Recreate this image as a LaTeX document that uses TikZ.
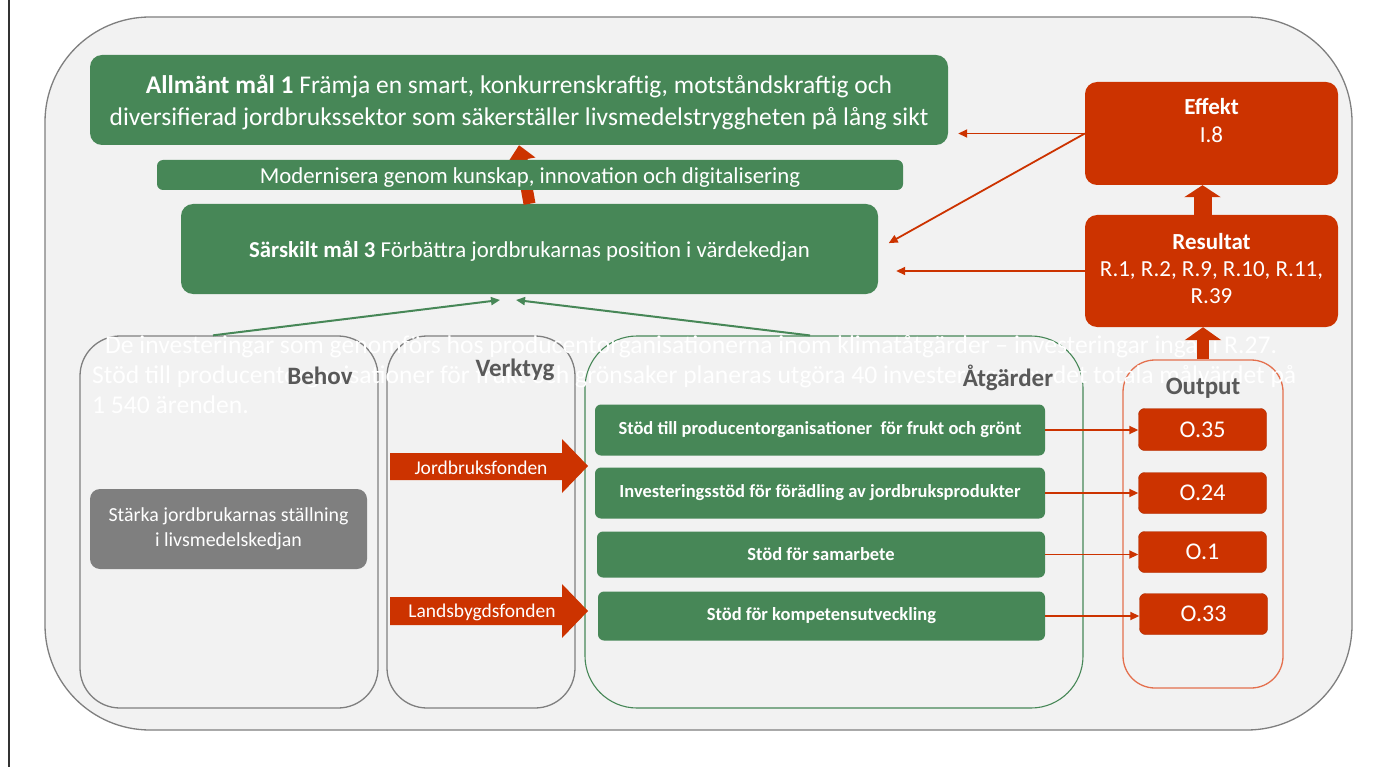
\documentclass[tikz,border=0pt]{standalone}
\usepackage{fontspec}
\setmainfont{Carlito}
\usetikzlibrary{arrows.meta,calc}
\definecolor{gr}{RGB}{71,135,87}
\definecolor{rd}{RGB}{204,51,0}
\definecolor{bg}{RGB}{242,242,242}
\definecolor{gy}{RGB}{127,127,127}
\definecolor{lbl}{RGB}{89,89,89}
\definecolor{outl}{RGB}{228,112,78}
\newcommand{\fs}[2]{\fontsize{#1}{#2}\selectfont}
\begin{document}
\begin{tikzpicture}[x=1pt,y=-1pt,
  gbox/.style={fill=gr,text=white,rounded corners=12pt,inner sep=0pt,align=center},
  rbox/.style={fill=rd,text=white,rounded corners=12pt,inner sep=0pt,align=center},
  wtxt/.style={text=white,align=center,inner sep=0pt},
  act/.style={fill=gr,text=white,rounded corners=6pt,inner sep=0pt,font=\fs{18.5}{22}\bfseries},
  outb/.style={fill=rd,draw=rd!85!black,text=white,rounded corners=6pt,inner sep=0pt,minimum width=128pt,font=\fs{24}{28}},
  col/.style={rounded corners=40pt,line width=1.3pt,inner sep=0pt},
  lab/.style={text=lbl,font=\fs{25}{29}\bfseries},
  rarr/.style={draw=rd,line width=1.8pt,-{Triangle[length=9pt,width=8pt]}},
  garr/.style={draw=gr,line width=2pt,-{Triangle[length=9pt,width=8pt]}},
  fund/.style={text=white,font=\fs{19.5}{23}}
]
\useasboundingbox (0,0) rectangle (1375,767);
\fill[white] (0,0) rectangle (1375,767);
\draw[line width=1.3pt,black!80] (9,0) -- (9,767);
% outer frame
\draw[gy,line width=1.3pt,fill=bg,rounded corners=105pt] (45,17) rectangle (1352,730);

% columns
\node[col,draw=gy,minimum width=298pt,minimum height=372pt] (behov) at (229,522) {};
\node[col,draw=gy,minimum width=188pt,minimum height=372pt] (verktyg) at (481,522) {};
\node[col,draw=gr,line width=1.1pt,minimum width=498pt,minimum height=372pt,rounded corners=52pt] (atg) at (834,522) {};
\node[col,draw=outl,minimum width=160pt,minimum height=328pt,rounded corners=32pt] (outbox) at (1203,524) {};

% goal boxes
\node[gbox,minimum width=858pt,minimum height=90pt] (gen) at (519,100) {};
\node[wtxt,font=\fs{25.5}{32}] (gentxt) at (519,102.5)
  {\textbf{Allmänt mål 1} Främja en smart, konkurrenskraftig, motståndskraftig och\\
   diversifierad jordbrukssektor som säkerställer livsmedelstryggheten på lång sikt};
\node[gbox,minimum width=697pt,minimum height=90pt] (sar) at (529.5,249) {};
\node[wtxt,font=\fs{22.8}{26}] (sartxt) at (529.5,251.5)
  {\textbf{Särskilt mål 3} Förbättra jordbrukarnas position i värdekedjan};
\draw[rd,line width=12pt,-{Triangle[length=15pt,width=27pt]}] (sar.north) -- (gen.south);
\node[gbox,rounded corners=6pt,minimum width=746pt,minimum height=30pt] (mod) at (530,175) {};
\node[wtxt,font=\fs{22.8}{26}] (modtxt) at (530,177.5)
  {Modernisera genom kunskap, innovation och digitalisering};

% effect / result
\node[rbox,minimum width=253pt,minimum height=103pt] (effekt) at (1211.5,133.5) {};
\node[wtxt,font=\fs{23}{28}] (efftxt) at (1211.5,121) {\textbf{Effekt}\\I.8};
\node[rbox,minimum width=253pt,minimum height=112pt] (res) at (1211.5,271) {};
\node[wtxt,font=\fs{23}{27}] (restxt) at (1211.5,268.5)
  {\textbf{Resultat}\\R.1, R.2, R.9, R.10, R.11,\\R.39};
\draw[rd,line width=18pt,-{Triangle[length=12pt,width=36pt]}] ([xshift=-9pt]res.north) -- ([xshift=-9pt]effekt.south);

\draw[rarr,shorten >=10pt] (effekt.west) -- (effekt.west -| gen.east);
\draw[rarr,shorten >=12pt] (effekt.west) -- (sar.east);
\draw[rarr,shorten >=18pt] (res.west) -- (res.west -| sar.east);

% green arrows to Särskilt mål
\coordinate (g1) at (500,300);
\coordinate (g2) at (516,300);
\draw[garr] ([xshift=-16pt]behov.north) -- (g1);
\draw[garr] ([xshift=-24pt]atg.north) -- (g2);

% need box
\node[fill=gy,text=white,rounded corners=10pt,minimum width=277pt,minimum height=80pt,align=center,font=\fs{19.9}{25}] (need) at (228.5,529)
  {Stärka jordbrukarnas ställning\\i livsmedelskedjan};

% actions
\node[act,minimum width=450pt,minimum height=51pt] (a1) at (820,430) {Stöd till producentorganisationer\ \ för frukt och grönt};
\node[act,minimum width=450pt,minimum height=51pt] (a2) at (820,493) {Investeringsstöd för förädling av jordbruksprodukter};
\node[act,minimum width=448pt,minimum height=46pt] (a3) at (821,554.5) {Stöd för samarbete};
\node[act,minimum width=447pt,minimum height=49pt] (a4) at (821.5,616) {Stöd för kompetensutveckling};

% outputs
\node[outb,minimum height=42pt] (o1) at (1202.5,429.5) {O.35};
\node[outb,minimum height=41pt] (o2) at (1202.5,493) {O.24};
\node[outb,minimum height=41pt] (o3) at (1202.5,552) {O.1};
\node[outb,minimum height=41pt] (o4) at (1203.5,614) {O.33};
\draw[rarr] (a1.east) -- (o1.west |- a1.east);
\draw[rarr] (a2.east) -- (o2.west |- a2.east);
\draw[rarr] (a3.east) -- (o3.west |- a3.east);
\draw[rarr] (a4.east) -- (o4.west |- a4.east);

% fund arrows
\fill[rd] (390,453) -- (562,453) -- (562,439) -- (588,466) -- (562,493) -- (562,480) -- (390,480) -- cycle;
\node[fund] (jf) at (481,468) {Jordbruksfonden};
\fill[rd] (390,597) -- (562,597) -- (562,584) -- (588,611) -- (562,638) -- (562,625) -- (390,625) -- cycle;
\node[fund] (lf) at (482,612) {Landsbygdsfonden};

% white overlay text
\node[text=white,anchor=north west,align=left,font=\fs{25.6}{30},inner sep=0pt] (note) at (92,335)
  {\hspace*{13pt}De investeringar som genomförs hos producentorganisationerna inom klimatåtgärder – investeringar ingår i R.27.\\
   Stöd till producentorganisationer för frukt och grönsaker planeras utgöra 40 investeringar av det totala målvärdet på\\
   1 540 ärenden.};

% column labels
\node[lab] (lb) at (320,376) {Behov};
\node[lab] (lv) at (515,370) {Verktyg};
\node[lab] (la) at (1008,378) {Åtgärder};
\node[lab] (lo) at (1203,388) {Output};

\draw[rd,line width=12pt,-{Triangle[length=13pt,width=36pt]}] (outbox.north) -- (outbox.north |- res.south);
\end{tikzpicture}
\end{document}
